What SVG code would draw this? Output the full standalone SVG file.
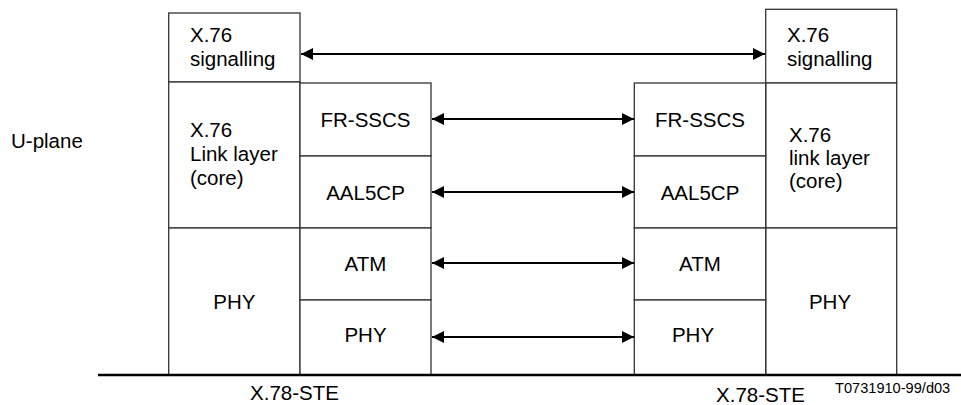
<svg xmlns="http://www.w3.org/2000/svg" width="961" height="405" viewBox="0 0 961 405">
<style>
.box{fill:#fff;stroke:#333;stroke-width:1.3}
.t{font-family:"Liberation Sans",Arial,sans-serif;font-size:20.5px;fill:#000}
.c{text-anchor:middle}
.arr{stroke:#000;stroke-width:2;fill:none;marker-start:url(#ah);marker-end:url(#ah)}
</style>
<defs>
<marker id="ah" viewBox="0 0 12 12" refX="12" refY="6" markerWidth="12" markerHeight="12" markerUnits="userSpaceOnUse" orient="auto-start-reverse">
<path d="M0,0 L12,6 L0,12 Z" fill="#000"/>
</marker>
</defs>
<rect width="961" height="405" fill="#fff"/>
<text class="t" x="11" y="148">U-plane</text>
<g id="sig-left"><rect class="box" x="168.7" y="13" width="131.3" height="69"/><text class="t" x="190" y="42">X.76</text><text class="t" x="190" y="66">signalling</text></g>
<g id="link-left"><rect class="box" x="168.7" y="82" width="131.3" height="146"/><text class="t" x="190" y="137">X.76</text><text class="t" x="190" y="161">Link layer</text><text class="t" x="190" y="185">(core)</text></g>
<g id="phy-left"><rect class="box" x="168.7" y="228" width="131.3" height="147"/><text class="t c" x="234.4" y="309">PHY</text></g>
<g id="frsscs-left"><rect class="box" x="300" y="83" width="131" height="73"/><text class="t c" x="365.5" y="127">FR-SSCS</text></g>
<g id="aal5-left"><rect class="box" x="300" y="156" width="131" height="72"/><text class="t c" x="365.5" y="200">AAL5CP</text></g>
<g id="atm-left"><rect class="box" x="300" y="228" width="131" height="72"/><text class="t c" x="365.5" y="271">ATM</text></g>
<g id="phy2-left"><rect class="box" x="300" y="300" width="131" height="75"/><text class="t c" x="365.5" y="342">PHY</text></g>
<g id="sig-right"><rect class="box" x="765.7" y="9.3" width="131" height="73.7"/><text class="t" x="787" y="42">X.76</text><text class="t" x="787" y="66">signalling</text></g>
<g id="link-right"><rect class="box" x="765.7" y="83" width="131" height="145"/><text class="t" x="789" y="142">X.76</text><text class="t" x="789" y="165">link layer</text><text class="t" x="789" y="188">(core)</text></g>
<g id="phy-right"><rect class="box" x="765.7" y="228" width="131" height="147"/><text class="t c" x="830" y="309">PHY</text></g>
<g id="frsscs-right"><rect class="box" x="634.3" y="83" width="131.4" height="73"/><text class="t c" x="700" y="127">FR-SSCS</text></g>
<g id="aal5-right"><rect class="box" x="634.3" y="156" width="131.4" height="72"/><text class="t c" x="700" y="200">AAL5CP</text></g>
<g id="atm-right"><rect class="box" x="634.3" y="228" width="131.4" height="72"/><text class="t c" x="700" y="271">ATM</text></g>
<g id="phy2-right"><rect class="box" x="634.3" y="300" width="131.4" height="75"/><text class="t c" x="693" y="342">PHY</text></g>
<g id="connectors">
<line class="arr" x1="301" y1="54" x2="765" y2="54"/>
<line class="arr" x1="432" y1="119" x2="634" y2="119"/>
<line class="arr" x1="432" y1="192" x2="634" y2="192"/>
<line class="arr" x1="432" y1="263" x2="634" y2="263"/>
<line class="arr" x1="432" y1="337" x2="634" y2="337"/>
</g>
<line x1="98" y1="375" x2="961" y2="375" stroke="#000" stroke-width="2.5"/>
<text class="t c" x="294.5" y="400">X.78-STE</text>
<text class="t c" x="760.5" y="401.5">X.78-STE</text>
<text x="835" y="393" style="font-family:'Liberation Sans',Arial,sans-serif;font-size:14.6px;fill:#000">T0731910-99/d03</text>
</svg>
